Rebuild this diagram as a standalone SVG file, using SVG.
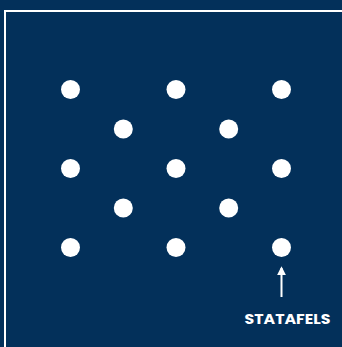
<svg xmlns="http://www.w3.org/2000/svg" width="342" height="347" viewBox="0 0 342 347">
<defs>
<style>
.dot{fill:#ffffff}
.lbl{font-family:"Poppins","Open Sans","Liberation Sans",sans-serif;font-weight:bold;font-size:13.5px;fill:#ffffff}
</style>
<marker id="ah" viewBox="0 0 10 10" refX="8" refY="5" markerWidth="9" markerHeight="9" markerUnits="userSpaceOnUse" orient="auto">
<path d="M0,0 L10,5 L0,10 Z" fill="#ffffff"/>
</marker>
</defs>
<rect x="0" y="0" width="342" height="347" fill="#03305a"/>
<rect x="5" y="11" width="350" height="350" fill="none" stroke="#ffffff" stroke-width="2"/>
<g id="dots">
<circle id="d1" class="dot" cx="70.5" cy="89.5" r="9.5"/>
<circle id="d2" class="dot" cx="176" cy="89.5" r="9.5"/>
<circle id="d3" class="dot" cx="281.5" cy="89.5" r="9.5"/>
<circle id="d4" class="dot" cx="123.3" cy="129" r="9.5"/>
<circle id="d5" class="dot" cx="228.7" cy="129" r="9.5"/>
<circle id="d6" class="dot" cx="70.5" cy="168.5" r="9.5"/>
<circle id="d7" class="dot" cx="176" cy="168.5" r="9.5"/>
<circle id="d8" class="dot" cx="281.5" cy="168.5" r="9.5"/>
<circle id="d9" class="dot" cx="123.3" cy="208" r="9.5"/>
<circle id="d10" class="dot" cx="228.7" cy="208" r="9.5"/>
<circle id="d11" class="dot" cx="70.5" cy="247.5" r="9.5"/>
<circle id="d12" class="dot" cx="176" cy="247.5" r="9.5"/>
<circle id="d13" class="dot" cx="281.5" cy="247.5" r="9.5"/>
</g>
<g id="connectors">
<line x1="281.5" y1="297" x2="281.5" y2="268" stroke="#ffffff" stroke-width="2" marker-end="url(#ah)"/>
</g>
<g id="label">
<text class="lbl" x="287.5" y="323.5" text-anchor="middle" textLength="86" lengthAdjust="spacingAndGlyphs">STATAFELS</text>
</g>
</svg>
